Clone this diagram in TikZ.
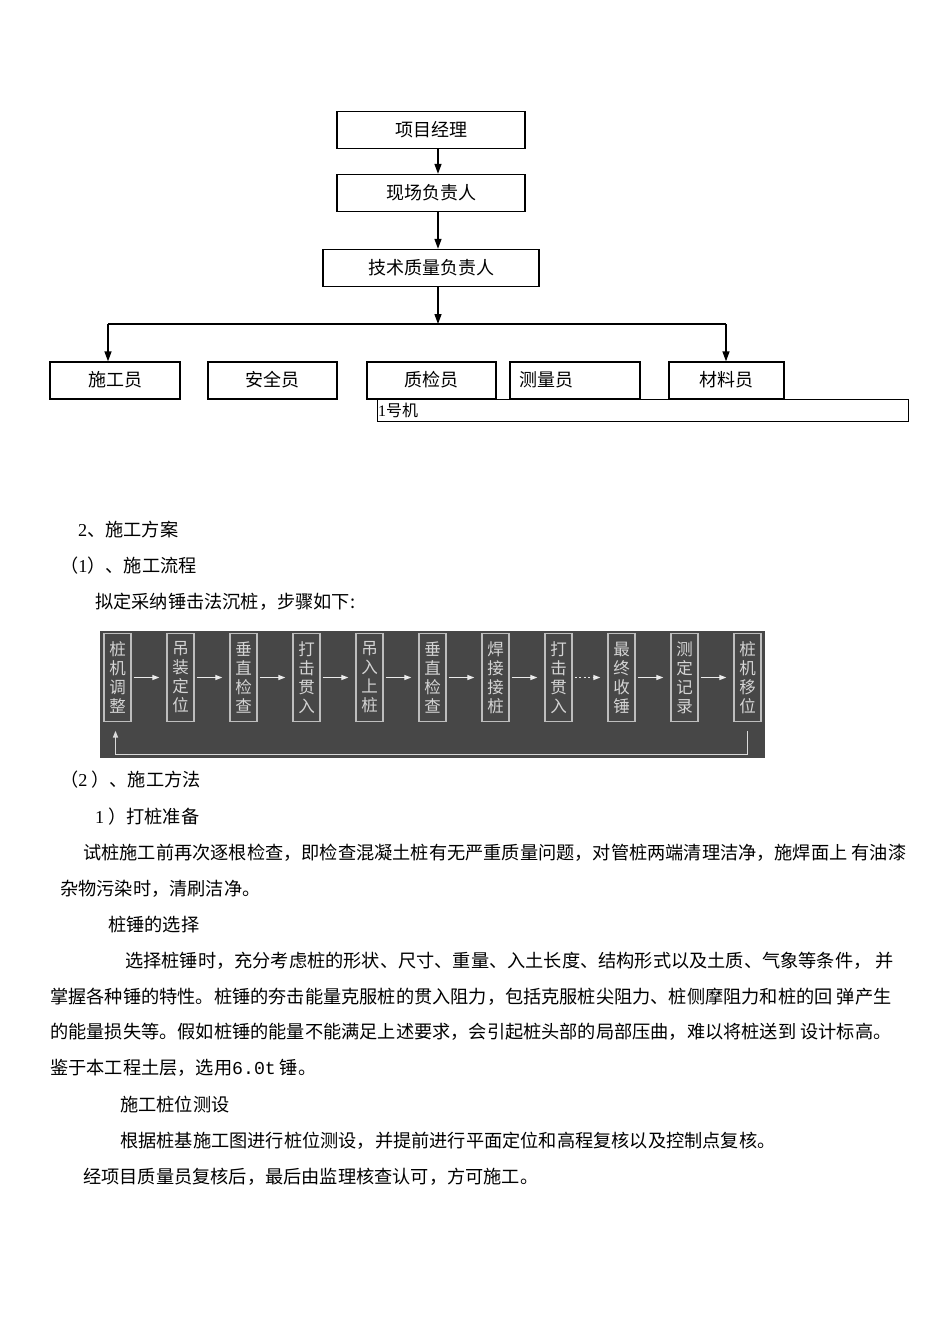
\documentclass[tikz,border=0pt]{standalone}
\usepackage{fontspec}
\usepackage{tikz}
\usetikzlibrary{arrows.meta}
\setmainfont{Noto Sans CJK SC}
\newfontfamily\numfont{Liberation Serif}
\newfontfamily\digitmono{Liberation Mono}
\definecolor{panelgray}{HTML}{474747}
\definecolor{stepline}{HTML}{BEBEBE}
\definecolor{steptext}{HTML}{D4D4D4}
\definecolor{loopcolor}{HTML}{DADADA}

\tikzset{
  orgbox/.style={draw, line width=1.3pt, minimum height=37pt, inner sep=0pt, text depth=3pt, font=\fontsize{18}{20}\selectfont},
  orgarrow/.style={line width=1.3pt, -{Triangle[length=10pt,width=7pt]}},
  bodytext/.style={anchor=west, inner sep=0pt, font=\fontsize{18.2}{20}\selectfont},
  stepbox/.style={draw=stepline, line width=1.3pt, minimum width=27pt, minimum height=88pt, inner sep=0pt, align=center, text=steptext, font=\fontsize{16.5}{19}\selectfont},
  steparrow/.style={draw=white!92!black, line width=1.2pt, -{Triangle[length=7pt,width=5pt]}, shorten <=2pt, shorten >=7pt},
}

\begin{document}
\begin{tikzpicture}[x=1pt, y=-1pt]
            \useasboundingbox (0,0) rectangle (950,1344);

            % Organisation chart
            \node[orgbox, minimum width=188pt] (pm) at (431,130) {项目经理};
            \node[orgbox, minimum width=188pt] (site) at (431,193) {现场负责人};
            \node[orgbox, minimum width=216pt] (tech) at (431,268) {技术质量负责人};

            \node[orgbox, minimum width=130pt] (w1) at (115,380.5) {施工员};
            \node[orgbox, minimum width=129pt] (w2) at (272.5,380.5) {安全员};
            \node[orgbox, minimum width=129pt] (w3) at (431.5,380.5) {质检员};
            \node[orgbox, minimum width=130pt, text width=112pt, align=left] (w4) at (575,380.5) {测量员};
            \node[orgbox, minimum width=115pt] (w5) at (726.5,380.5) {材料员};

            \node[draw, line width=1pt, anchor=north west, minimum width=531pt, minimum height=22pt, inner sep=0pt] (no1) at (377,399) {};
            \node[anchor=west, inner sep=0pt, font=\fontsize{16}{18}\selectfont] (no1txt) at ([xshift=1pt]no1.west) {{\numfont 1}号机};

            \draw[orgarrow] ([xshift=7pt]pm.south) -- ([xshift=7pt]site.north);
            \draw[orgarrow] ([xshift=7pt]site.south) -- ([xshift=7pt]tech.north);

            \coordinate (busL) at (108,324);
            \coordinate (busR) at (726,324);
            \coordinate (busM) at (438,324);
            \draw[orgarrow] ([xshift=7pt]tech.south) -- (busM);
            \draw[line width=1.3pt] (busL) -- (busR);
            \draw[orgarrow] (busL) -- (busL |- w1.north);
            \draw[orgarrow] (busR) -- (busR |- w5.north);

            % Text above the flow
            \node[bodytext] (t1) at (78,530) {{\numfont 2}、施工方案};
            \node[bodytext] (t2) at (60,566) {（{\numfont 1}）、施工流程};
            \node[bodytext] (t3) at (95,602) {拟定采纳锤击法沉桩，步骤如下:};

            % Flow of the piling steps
            \fill[panelgray] (100,631) rectangle (765,758);
            \foreach \lbl [count=\i] in {{桩\\机\\调\\整},{吊\\装\\定\\位},{垂\\直\\检\\查},{打\\击\\贯\\入},{吊\\入\\上\\桩},{垂\\直\\检\\查},{焊\\接\\接\\桩},{打\\击\\贯\\入},{最\\终\\收\\锤},{测\\定\\记\\录},{桩\\机\\移\\位}}
              \node[stepbox] (s\i) at ({117.5+63*(\i-1)},677.5) {\lbl};

            \foreach \i/\j in {1/2,2/3,3/4,4/5,5/6,6/7,7/8,9/10,10/11}
              \draw[steparrow] (s\i) -- (s\j);
            \draw[steparrow, dash pattern=on 2pt off 2.5pt] (s8) -- (s9);

            % Return line
            \draw[loopcolor, line width=1.5pt, -{Triangle[length=7pt,width=5pt]}] ([yshift=-9pt]s11.south) |- ([xshift=-2pt, yshift=-32.5pt]s1.south) -- ([xshift=-2pt, yshift=-8.5pt]s1.south);

            % Text below the flow
            \node[bodytext] (t4) at (60,780) {（{\numfont 2} ）、施工方法};
            \node[bodytext] (t5) at (95,817) {{\numfont 1} ）打桩准备};
            \node[bodytext] (t6) at (83,853) {试桩施工前再次逐根检查，即检查混凝土桩有无严重质量问题，对管桩两端清理洁净，施焊面上 有油漆};
            \node[bodytext] (t7) at (60,889) {杂物污染时，清刷洁净。};
            \node[bodytext] (t8) at (108,925) {桩锤的选择};
            \node[bodytext] (t9) at (125,961) {选择桩锤时，充分考虑桩的形状、尺寸、重量、入土长度、结构形式以及土质、气象等条件， 并};
            \node[bodytext] (t10) at (50,997) {掌握各种锤的特性。桩锤的夯击能量克服桩的贯入阻力，包括克服桩尖阻力、桩侧摩阻力和桩的回 弹产生};
            \node[bodytext] (t11) at (50,1032) {的能量损失等。假如桩锤的能量不能满足上述要求，会引起桩头部的局部压曲，难以将桩送到 设计标高。};
            \node[bodytext] (t12) at (50,1068) {鉴于本工程土层，选用{\digitmono 6.0t} 锤。};
            \node[bodytext] (t13) at (120,1105) {施工桩位测设};
            \node[bodytext] (t14) at (120,1141) {根据桩基施工图进行桩位测设，并提前进行平面定位和高程复核以及控制点复核。};
            \node[bodytext] (t15) at (83,1177) {经项目质量员复核后，最后由监理核查认可，方可施工。};
        \end{tikzpicture}
\end{document}
